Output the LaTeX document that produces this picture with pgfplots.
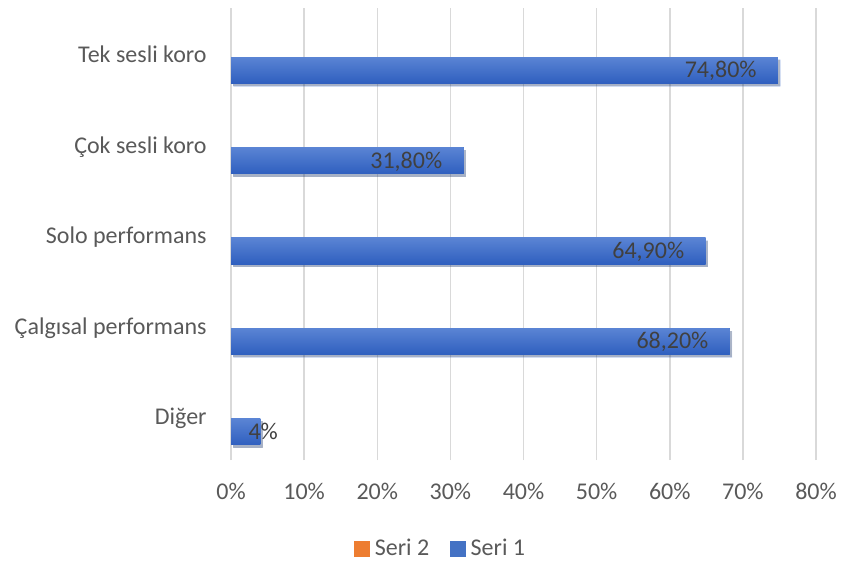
\documentclass[border=0pt]{standalone}
\usepackage{fontspec}
\setmainfont{Carlito}
\usepackage{pgfplots}
\pgfplotsset{compat=1.18}
\usetikzlibrary{shadows}
\definecolor{gridc}{HTML}{D9D9D9}
\definecolor{txt}{HTML}{595959}
\definecolor{lbl}{HTML}{404040}
\definecolor{barTop}{HTML}{5A84D4}
\definecolor{barBot}{HTML}{2F5FBF}
\definecolor{barMid}{HTML}{4472C4}
\definecolor{orng}{HTML}{ED7D31}
\newcommand{\chartfont}{\fontsize{12}{14.4}\selectfont}
\pgfplotsset{
  barstyle/.style={xbar, forget plot, bar width=0.29, bar shift=-0.188, draw=none,
    fill=barMid, top color=barTop, bottom color=barBot,
    drop shadow={shadow xshift=1.2pt, shadow yshift=-1.4pt, opacity=0.22, fill=black},
    point meta=explicit symbolic, nodes near coords,
    every node near coord/.append style={font=\chartfont, text=lbl, anchor=base east,
      inner sep=0pt, xshift=#1, yshift=-12.2pt}},
}
\begin{document}
\begin{tikzpicture}
\begin{axis}[
  scale only axis, width=292.5pt, height=226pt,
  xmin=0, xmax=80, ymin=-0.5, ymax=4.5,
  axis line style={draw=none},
  major tick length=0pt,
  xmajorgrids, ymajorgrids=false,
  grid style={gridc, line width=0.75pt},
  xtick={0,10,...,80},
  xticklabel={\pgfmathprintnumber{\tick}\%},
  /pgf/number format/assume math mode=true,
  ytick={0,1,2,3,4},
  yticklabels={Diğer, Çalgısal performans, Solo performans, Çok sesli koro, Tek sesli koro},
  tick label style={font=\chartfont, text=txt},
  xticklabel style={anchor=base, yshift=-19.5pt, inner sep=0pt},
  yticklabel style={anchor=base east, xshift=-12pt, yshift=-4.8pt, inner sep=0pt},
  legend columns=2,
  legend style={draw=none, fill=none, at={(0.359,-0.197)}, anchor=center,
    font=\chartfont, text=txt, inner sep=0pt,
    nodes={inner sep=1.6pt},
    /tikz/every even column/.append style={column sep=8.5pt},
    /tikz/every odd column/.append style={column sep=1pt}},
]
\addlegendimage{legend image code/.code={\fill[orng] (0pt,-3.6pt) rectangle (7.6pt,3.6pt);}}
\addlegendentry{Seri 2}
\addlegendimage{legend image code/.code={\fill[barMid] (0pt,-3.6pt) rectangle (7.6pt,3.6pt);}}
\addlegendentry{Seri 1}

\addplot[barstyle=-10.5pt] coordinates {(74.8,4) [74,80\%]};
\addplot[barstyle=-10.5pt] coordinates {(31.8,3) [31,80\%]};
\addplot[barstyle=-10.5pt] coordinates {(64.9,2) [64,90\%]};
\addplot[barstyle=-10.5pt] coordinates {(68.2,1) [68,20\%]};
\addplot[barstyle=9pt] coordinates {(4,0) [4\%]};
\end{axis}
\pgfresetboundingbox
\path ([shift={(-115.5pt,-54pt)}]current axis.south west) rectangle ([shift={(12.5pt,4pt)}]current axis.north east);
\end{tikzpicture}
\end{document}
